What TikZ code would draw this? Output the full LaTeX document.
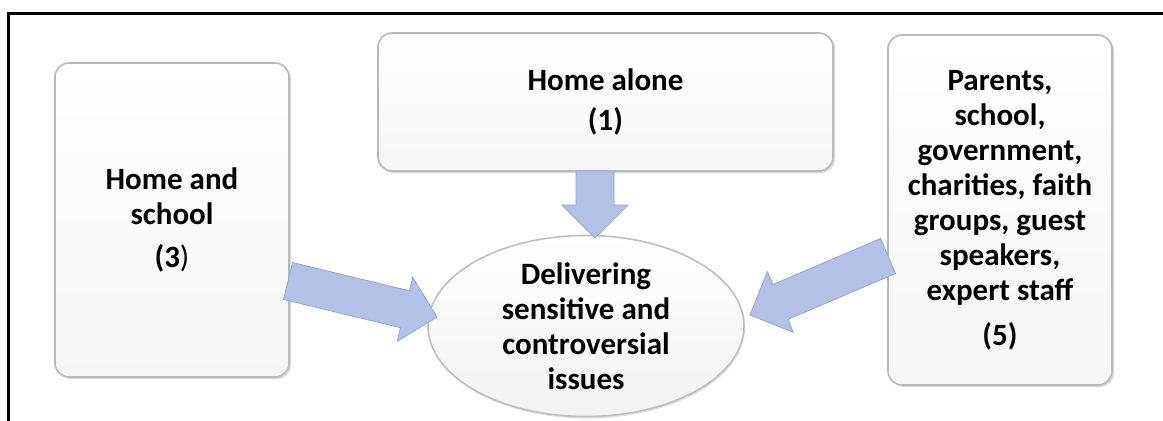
\documentclass[tikz,border=0pt]{standalone}
\usepackage{fontspec}
\setmainfont{Carlito}
\usetikzlibrary{calc,shadows,shapes.geometric}

\definecolor{arrowblue}{RGB}{180,193,230}
\definecolor{arrowedge}{RGB}{150,166,212}

\tikzset{
  bevelbox/.style={draw=gray!55, line width=0.8pt, rounded corners=7pt,
    top color=white, bottom color=gray!7,
    drop shadow={shadow xshift=1pt, shadow yshift=-1pt, opacity=0.3},
    align=center, inner sep=0pt, font=\fontsize{15.5}{17.5}\selectfont\bfseries},
  issue/.style={ellipse, draw=gray!50, line width=0.8pt,
    top color=white, bottom color=gray!10,
    drop shadow={shadow xshift=0.5pt, shadow yshift=-1pt, opacity=0.25},
    align=center, inner sep=0pt, font=\fontsize{15.5}{17.5}\selectfont\bfseries},
  blockarrow/.style={fill=arrowblue, draw=arrowedge, line width=0.4pt, line join=miter}
}

% block arrow from #1 (tail) to #2 (tip)
\newcommand\shafthalf{9.5pt}
\newcommand\headhalf{16.5pt}
\newcommand\headlen{16.5pt}
\newcommand\blockarrow[2]{%
  \draw[blockarrow] ($(#1)!\shafthalf!90:(#2)$)
    -- ($(#2)!\headlen!(#1)!\shafthalf!-90:(#1)$)
    -- ($(#2)!\headlen!(#1)!\headhalf!-90:(#1)$)
    -- (#2)
    -- ($(#2)!\headlen!(#1)!\headhalf!90:(#1)$)
    -- ($(#2)!\headlen!(#1)!\shafthalf!90:(#1)$)
    -- ($(#1)!\shafthalf!-90:(#2)$) -- cycle;}

\begin{document}
\begin{tikzpicture}[x=0.5pt,y=-0.5pt]
\useasboundingbox (0,0) rectangle (1163,421);
%frame
\draw[line width=1.5pt] (8.5,421) -- (8.5,14) -- (1163,14);

%boxes
\node[bevelbox, minimum width=117pt, minimum height=157pt] (home3) at (172,220)
  {Home and\\ school\\[4pt] (3\textmd{)}};
\node[bevelbox, minimum width=227.5pt, minimum height=69pt] (home1) at (605.5,102)
  {Home alone\\[2.5pt] (1)};
\node[bevelbox, minimum width=112pt, minimum height=175pt] (parents5) at (1000,210)
  {Parents,\\ school,\\ government,\\ charities, faith\\ groups, guest\\ speakers,\\ expert staff\\[5pt] (5)};
%centre
\node[issue, minimum width=158pt, minimum height=90.5pt] (deliver) at (586,326)
  {Delivering\\ sensitive and\\ controversial\\ issues};

%arrow ends
\coordinate (h1tail) at (595,171);
\coordinate (h1tip) at (595,238);
\coordinate (h3tail) at (288,281);
\coordinate (h3tip) at (437,317);
\coordinate (p5tail) at (888,256);
\coordinate (p5tip) at (750,315);

%arrows
\blockarrow{h1tail}{h1tip}
\blockarrow{h3tail}{h3tip}
\blockarrow{p5tail}{p5tip}
\end{tikzpicture}
\end{document}
